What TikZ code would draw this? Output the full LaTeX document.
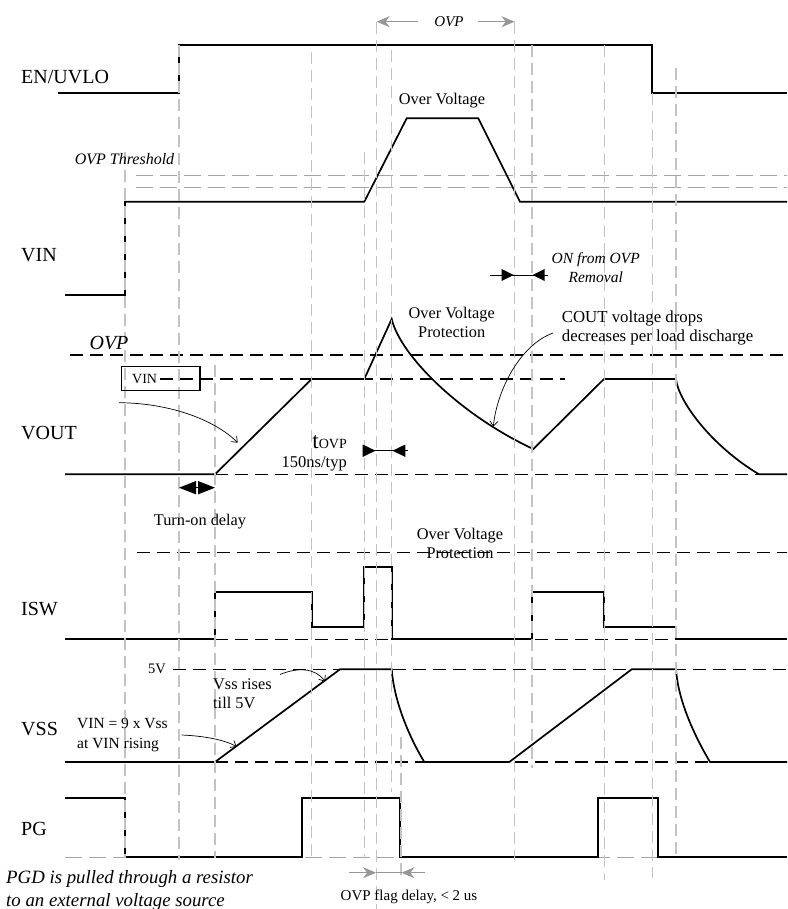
\documentclass[tikz,border=0pt]{standalone}
\usepackage{fontspec}
\setmainfont{Liberation Serif}
\usetikzlibrary{arrows.meta}
\definecolor{vgray}{RGB}{195,195,195}
\definecolor{tgray}{RGB}{165,165,165}
\definecolor{agray}{RGB}{150,150,150}
\newcommand\fsz[2]{\fontsize{#1}{#2}\selectfont}
\begin{document}
\begin{tikzpicture}[x=1pt,y=-1pt,
  wave/.style={line width=1.7pt,line join=miter},
  vdash/.style={draw=vgray,line width=1.3pt,dash pattern=on 12pt off 6pt},
  hdash/.style={draw=black,line width=1.4pt,dash pattern=on 13pt off 7pt},
  gdash/.style={draw=tgray,line width=1.3pt,dash pattern=on 17pt off 7pt},
  sig/.style={anchor=west,inner sep=0pt,font={\fsz{20}{22}}},
  ann/.style={inner sep=0pt,font={\fsz{16.3}{19}}},
  note/.style={line width=0.7pt,-{Straight Barb[length=5pt,width=8pt]}},
  garr/.style={draw=agray,line width=1pt,-{Stealth[length=13pt,width=11pt]}}
]
\useasboundingbox (0,0) rectangle (787,909);

% ---------- signal labels
\node[sig] (en)   at (21,77)    {EN/UVLO};
\node[sig] (vin)  at (21,255)   {VIN};
\node[sig] (vout) at (21,433)   {VOUT};
\node[sig] (isw)  at (21,609)   {ISW};
\node[sig] (vss)  at (21,729)   {VSS};
\node[sig] (pg)   at (21,829)   {PG};

% ---------- horizontal reference lines
\draw[gdash] (136,175.7) -- (787,175.7);
\draw[gdash] (136,187.3) -- (787,187.3);
\draw[hdash] (70,355) -- (787,355);
\draw[hdash] (160,379) -- (565,379);
\draw[hdash] (215,474.3) -- (759,474.3);
\draw[hdash] (136.7,552.3) -- (787,552.3);
\draw[hdash] (215,639.3) -- (787,639.3);
\draw[hdash] (173,669.3) -- (787,669.3);
\draw[hdash] (215,762) -- (787,762);
\draw[gdash] (65,857.3) -- (787,857.3);

% ---------- waveforms
\draw[wave] (58,93.3) -- (179,93.3) -- (179,45) -- (652.3,45) -- (652.3,93.3) -- (787,93.3);
\draw[wave] (65,295) -- (125,295) -- (125,201.7) -- (364.3,201.7) -- (406.7,118.3)
  -- (478.3,118.3) -- (520,201.7) -- (787,201.7);
\draw[wave] (65,474.3) -- (215,474.3) -- (311.7,379) -- (364.3,379) -- (391.7,319)
  .. controls (400,355) and (460,415) .. (533.3,449) -- (604,379) -- (676,379)
  .. controls (678,400) and (710,445) .. (759,474.3) -- (787,474.3);
\draw[wave] (65,639.3) -- (215,639.3) -- (215,591.7) -- (311.7,591.7) -- (311.7,627.3)
  -- (364.3,627.3) -- (364.3,566.7) -- (391.7,566.7) -- (391.7,639.3) -- (532.3,639.3)
  -- (532.3,591.7) -- (604,591.7) -- (604,627.3) -- (676,627.3) -- (676,639.3) -- (787,639.3);
\draw[wave] (65,762) -- (215,762) -- (340,669.3) -- (391.7,669.3)
  .. controls (394,700) and (408,735) .. (424.3,762) -- (509.3,762) -- (631.7,669.3)
  -- (676,669.3) .. controls (678,700) and (694,735) .. (710,762) -- (787,762);
\draw[wave] (65,797.7) -- (125,797.7) -- (125,857.3) -- (302.3,857.3) -- (302.3,797.7)
  -- (400,797.7) -- (400,857.3) -- (598.3,857.3) -- (598.3,797.7) -- (658.3,797.7)
  -- (658.3,857.3) -- (787,857.3);

% ---------- vertical timing lines
\draw[vdash] (125,152) -- (125,858);
\draw[vdash] (179,45) -- (179,860);
\draw[vdash] (215,365) -- (215,858);
\draw[vdash] (311.7,52) -- (311.7,858);
\draw[vdash] (364.3,152) -- (364.3,858);
\draw[vdash] (376.7,22) -- (376.7,909);
\draw[vdash] (391.7,50) -- (391.7,792);
\draw[vdash] (401,737) -- (401,880);
\draw[vdash] (514.5,22) -- (514.5,860);
\draw[vdash] (532,45) -- (532,768);
\draw[vdash] (604.2,45) -- (604.2,880);
\draw[vdash] (652.3,93) -- (652.3,878);
\draw[vdash] (676,68) -- (676,857);

% ---------- top OVP span
\node[ann,font={\fsz{15}{17}\itshape}] (ovptop) at (449,21.7) {OVP};
\coordinate (oa) at (417.7,21.7); \coordinate (ob) at (376.7,21.7);
\coordinate (oc) at (478,21.7);   \coordinate (od) at (514.5,21.7);
\draw[garr] (oa) -- (ob);
\draw[garr] (oc) -- (od);

% ---------- VIN annotations
\node[ann,font={\fsz{16}{19}\itshape}] (thr) at (124.5,159) {OVP Threshold};
\node[ann] (ovlt) at (442,100.7) {Over Voltage};
\node[ann,font={\fsz{15.5}{19}\itshape},align=center] (onfrom) at (595.7,267.5) {ON from OVP\\Removal};
\coordinate (n1) at (490,275); \coordinate (n2) at (548.3,275);
\draw[line width=1pt] (n1) -- (n2);
\fill (513.5,275) -- (501.5,269) -- (501.5,281) -- cycle;
\fill (532.5,275) -- (544.5,269) -- (544.5,281) -- cycle;

% ---------- VOUT annotations
\node[ann,font={\fsz{20}{22}\itshape}] (ovpv) at (109,343) {OVP};
\node[draw,line width=1.2pt,minimum width=78.3pt,minimum height=24pt,inner sep=0pt] (vinbox) at (160.85,378.7) {};
\node[ann,font={\fsz{14}{16}},anchor=west] (vintxt) at (132,379) {VIN};
\coordinate (va) at (119,402.7); \coordinate (vb) at (237.7,442.7);
\draw[note] (va) .. controls (170,403) and (215,420) .. (vb);
\node[ann,align=center] (ovp1) at (451.7,322) {Over Voltage\\Protection};
\node[ann,font={\fsz{16.8}{19.7}},align=left,anchor=west] (cout) at (561.7,328) {COUT voltage drops\\decreases per load discharge};
\coordinate (ca) at (553,333); \coordinate (cb) at (493.3,426.7);
\draw[note] (ca) .. controls (520,345) and (497,390) .. (cb);
\node[inner sep=0pt,anchor=base east] (tovp) at (347,448) {\fsz{23}{23}t\fsz{14}{16}OVP};
\node[ann,font={\fsz{16.5}{19}},anchor=east] (t150) at (347,463.3) {150ns/typ};
\coordinate (t1) at (362.7,450.7); \coordinate (t2) at (408.3,450.7);
\draw[line width=1pt] (t1) -- (t2);
\fill (375.5,450.7) -- (362.7,444.5) -- (362.7,456.9) -- cycle;
\fill (392.5,450.7) -- (405.3,444.5) -- (405.3,456.9) -- cycle;
\fill (179,487.7) -- (196,481) -- (196,494.4) -- cycle;
\fill (215,487.7) -- (198,481) -- (198,494.4) -- cycle;
\draw[line width=1pt] (196,487.7) -- (198,487.7);
\node[ann] (turnon) at (200,521.7) {Turn-on delay};

% ---------- ISW annotation
\node[ann,align=center] (ovp2) at (460,543.8) {Over Voltage\\Protection};

% ---------- VSS annotations
\node[ann,font={\fsz{14.5}{16}},anchor=east] (fivev) at (166,669.3) {5V};
\node[ann,align=left,anchor=west] (vssr) at (213,693.3) {Vss rises\\till 5V};
\coordinate (sa) at (280,674.5); \coordinate (sb) at (325,681.7);
\draw[note] (sa) .. controls (298,667) and (316,668) .. (sb);
\node[ann,font={\fsz{15.5}{20}},align=left,anchor=west] (vin9) at (77,735) {VIN = 9 x Vss\\at VIN rising};
\coordinate (ra) at (181.7,735); \coordinate (rb) at (236.7,746.7);
\draw[note] (ra) .. controls (205,736) and (225,740) .. (rb);

% ---------- bottom notes
\node[ann,font={\fsz{18.8}{22.4}\itshape},align=left,anchor=west] (pgd) at (6,890.5) {PGD is pulled through a resistor\\to an external voltage source};
\coordinate (f1) at (349,872.7); \coordinate (f2) at (376,872.7);
\coordinate (f3) at (425,872.7); \coordinate (f4) at (401.5,872.7);
\draw[garr] (f1) -- (f2);
\draw[draw=agray,line width=0.7pt] (f2) -- (f4);
\draw[garr] (f3) -- (f4);
\node[ann,font={\fsz{15}{18}}] (flag) at (409,896.7) {OVP flag delay, < 2 us};
\end{tikzpicture}
\end{document}
